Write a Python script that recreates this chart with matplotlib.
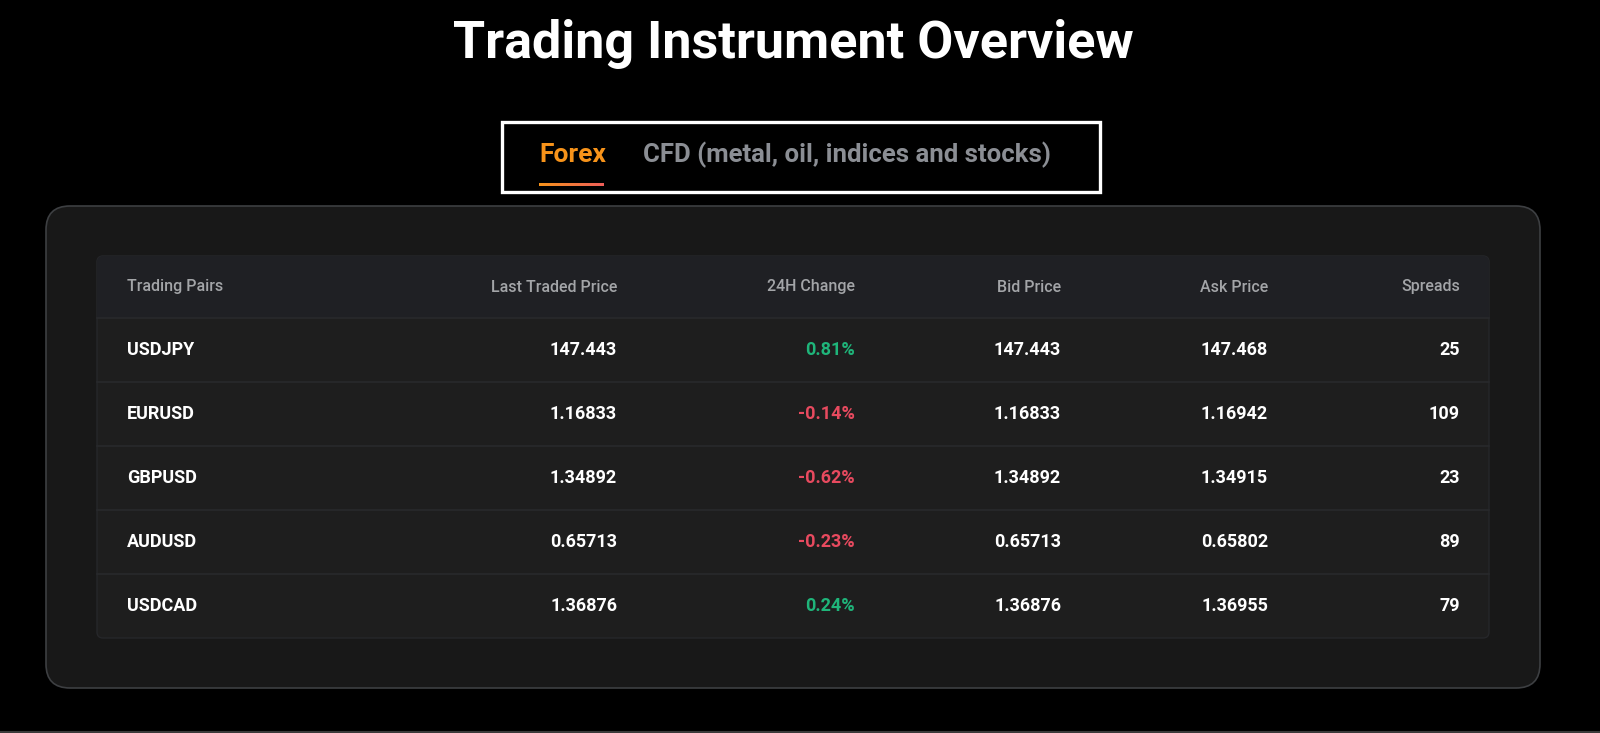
import matplotlib
matplotlib.use("Agg")
import matplotlib.pyplot as plt
from matplotlib.patches import FancyBboxPatch, Rectangle
from matplotlib.colors import LinearSegmentedColormap
import numpy as np

# ---- data ----
title = "Trading Instrument Overview"
tabs = ["Forex", "CFD (metal, oil, indices and stocks)"]
columns = ["Trading Pairs", "Last Traded Price", "24H Change", "Bid Price", "Ask Price", "Spreads"]
pairs = ["USDJPY", "EURUSD", "GBPUSD", "AUDUSD", "USDCAD"]
last_price = ["147.443", "1.16833", "1.34892", "0.65713", "1.36876"]
change_pct = [0.81, -0.14, -0.62, -0.23, 0.24]
bid_price = ["147.443", "1.16833", "1.34892", "0.65713", "1.36876"]
ask_price = ["147.468", "1.16942", "1.34915", "0.65802", "1.36955"]
spreads = [25, 109, 23, 89, 79]

W, H = 1600, 733
fig = plt.figure(figsize=(16, 7.33), dpi=100)
fig.patch.set_facecolor("black")
ax = fig.add_axes([0, 0, 1, 1])
ax.set_xlim(0, W)
ax.set_ylim(H, 0)
ax.axis("off")
ax.set_facecolor("black")

FONT = "Roboto"

# title
ax.text(793, 44, title, ha="center", va="center", color="white",
        fontsize=37.5, fontweight="bold", family=FONT)

# tab box
ax.add_patch(Rectangle((502, 122), 598, 70, fill=False, edgecolor="white", linewidth=2.4))
ax.text(539, 155, tabs[0], ha="left", va="center", color="#f7931a",
        fontsize=19, fontweight="bold", family=FONT)
ax.text(643, 155, tabs[1], ha="left", va="center", color="#8b8e94",
        fontsize=18.5, fontweight="bold", family=FONT)
grad = np.linspace(0, 1, 100).reshape(1, -1)
cm = LinearSegmentedColormap.from_list("u", ["#f7931a", "#ef5f5a"])
ax.imshow(grad, cmap=cm, extent=(539, 604, 186, 183), aspect="auto", zorder=3)

# panel
ax.add_patch(FancyBboxPatch((46, 206), 1494, 482, boxstyle="round,pad=0,rounding_size=24",
                            facecolor="#181818", edgecolor="#3d3f42", linewidth=1.2))

# table
tx0, tx1 = 97, 1489
ty0, header_h, row_h = 256, 62, 64
n = len(pairs)
ty1 = ty0 + header_h + n * row_h
ax.add_patch(FancyBboxPatch((tx0, ty0), tx1 - tx0, ty1 - ty0, boxstyle="round,pad=0,rounding_size=6",
                            facecolor="#1e1e1e", edgecolor="#26272a", linewidth=1.0))
ax.add_patch(FancyBboxPatch((tx0, ty0), tx1 - tx0, header_h, boxstyle="round,pad=0,rounding_size=6",
                            facecolor="#1f2024", edgecolor="none"))
ax.add_patch(Rectangle((tx0, ty0 + header_h - 8), tx1 - tx0, 8, facecolor="#1f2024", edgecolor="none"))
for i in range(n):
    y = ty0 + header_h + i * row_h
    ax.plot([tx0, tx1], [y, y], color="#28292c", linewidth=1.2)

col_x = [127, 617, 855, 1061, 1268, 1460]
col_ha = ["left", "right", "right", "right", "right", "right"]
hy = ty0 + header_h / 2
for c, x, ha in zip(columns, col_x, col_ha):
    ax.text(x, hy, c, ha=ha, va="center", color="#a3a5a8", fontsize=11.5,
            fontweight="medium", family=FONT)

for i in range(n):
    y = ty0 + header_h + i * row_h + row_h / 2
    ch = change_pct[i]
    ch_txt = f"{ch:.2f}%"
    ch_col = "#1fb57a" if ch >= 0 else "#e84a5f"
    vals = [pairs[i], last_price[i], ch_txt, bid_price[i], ask_price[i], str(spreads[i])]
    cols = ["white", "white", ch_col, "white", "white", "white"]
    for v, x, ha, colr in zip(vals, col_x, col_ha, cols):
        ax.text(x, y, v, ha=ha, va="center", color=colr, fontsize=13,
                fontweight="bold", family=FONT)

# bottom border line
ax.plot([0, W], [732, 732], color="#3a3a3a", linewidth=1.5)

fig.savefig("out.png", dpi=100, facecolor="black")
